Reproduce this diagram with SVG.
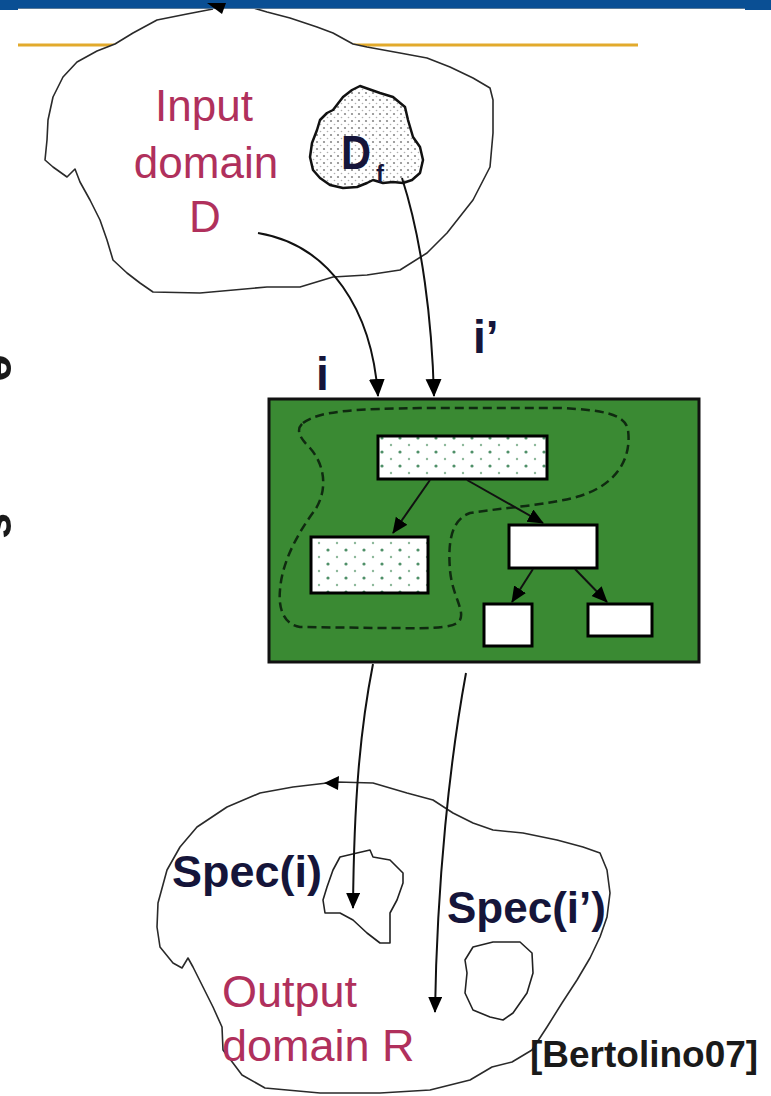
<svg xmlns="http://www.w3.org/2000/svg" width="771" height="1096" viewBox="0 0 771 1096">
<style>
.cloud{fill:#fff;stroke:#2a2a2a;stroke-width:1.6;stroke-linejoin:round}
.crim{font-family:"Liberation Sans",Arial,sans-serif;fill:#b0305c}
.bold{font-family:"Liberation Sans",Arial,sans-serif;font-weight:bold;fill:#15153a}
.conn{fill:none;stroke:#111;stroke-width:2}
.box{stroke:#000;stroke-width:3}
</style>
<defs>
<marker id="ah" markerUnits="userSpaceOnUse" markerWidth="16" markerHeight="16" refX="15" refY="7" orient="auto">
<path d="M0,0 L16,7 L0,14 Z" fill="#000"/>
</marker>
<marker id="ah2" markerUnits="userSpaceOnUse" markerWidth="18" markerHeight="18" refX="17" refY="8" orient="auto">
<path d="M0,0 L18,8 L0,16 Z" fill="#000"/>
</marker>
<pattern id="dotsGrey" width="7" height="7" patternUnits="userSpaceOnUse">
<rect width="7" height="7" fill="#fff"/>
<circle cx="2" cy="2" r="1.1" fill="#8a8a8a"/>
<circle cx="5.5" cy="5.5" r="0.8" fill="#b0b0b0"/>
</pattern>
<pattern id="dotsGreen" width="18" height="14" patternUnits="userSpaceOnUse">
<rect width="18" height="14" fill="#fff"/>
<circle cx="4" cy="4" r="1.6" fill="#4f9068"/>
<circle cx="13" cy="11" r="1.2" fill="#8cb89a"/>
</pattern>
</defs>

<g id="background">
<line x1="18" y1="45" x2="638" y2="45" stroke="#e2aa2c" stroke-width="3"/>
</g>

<g id="input-domain">
<path class="cloud" d="M213,9 L187,14 L157,20 L133,33 L115,44 L97,51 L77,62 L63,77 L53,97 L48,120 L47,140 L45,160 L53,167 L67,177 L75,169 L80,182 L90,200 L100,220 L107,240 L113,260 L127,273 L140,283 L153,292 L200,293 L267,287 L300,287 L333,277 L367,275 L400,270 L427,253 L447,233 L473,200 L490,167 L493,133 L493,100 L490,88 L473,78 L450,67 L427,58 L400,53 L367,47 L353,44 L333,33 L317,27 L290,18 L267,12 L250,7"/>
<text class="crim" x="204" y="121" font-size="44" text-anchor="middle">Input</text>
<text class="crim" x="206" y="178" font-size="44" text-anchor="middle">domain</text>
<text class="crim" x="205" y="232" font-size="44" text-anchor="middle">D</text>
</g>

<g id="failure-domain">
<path d="M360,86 L380,93 L393,97 L405,107 L408,120 L413,137 L420,147 L423,160 L420,173 L412,180 L403,183 L393,182 L383,183 L373,180 L367,183 L357,187 L343,188 L330,185 L320,178 L313,170 L310,157 L312,143 L317,130 L320,120 L327,113 L333,110 L343,97 L352,90 Z" fill="url(#dotsGrey)" stroke="#111" stroke-width="2.5" stroke-linejoin="round"/>
<text class="bold" x="341" y="169" font-size="48" textLength="30" lengthAdjust="spacingAndGlyphs" fill="#000">D</text>
<text class="bold" x="376" y="182" font-size="24" fill="#000">f</text>
</g>

<g id="program">
<rect x="269" y="399" width="430" height="263" fill="#3a8a33" stroke="#111" stroke-width="3"/>
<path d="M303,423 C320,410 360,409 420,408 L560,408 C600,410 625,413 628,430 C632,460 615,485 580,496 C550,505 500,508 470,513 C450,520 448,545 450,570 C452,595 465,610 460,620 C455,630 420,628 380,628 L300,627 C285,625 278,610 280,590 C282,560 300,530 315,510 C328,490 325,465 310,448 C300,438 295,430 303,423 Z" fill="none" stroke="#0f2a10" stroke-width="2.5" stroke-dasharray="9,5"/>
<rect class="box" x="378" y="436" width="169" height="43" fill="url(#dotsGreen)"/>
<rect class="box" x="311" y="537" width="117" height="56" fill="url(#dotsGreen)"/>
<rect class="box" x="509" y="525" width="88" height="43" fill="#fff"/>
<rect class="box" x="484" y="604" width="48" height="42" fill="#fff"/>
<rect class="box" x="588" y="604" width="64" height="32" fill="#fff"/>
</g>

<g id="output-domain">
<path class="cloud" d="M337,782 L373,783 L407,793 L433,800 L453,813 L473,823 L493,830 L523,833 L557,840 L583,847 L600,853 L607,870 L610,893 L607,917 L600,937 L590,958 L577,980 L562,1003 L547,1027 L532,1050 L512,1062 L492,1067 L470,1080 L430,1090 L380,1093 L320,1093 L265,1088 L242,1075 L233,1063 L223,1050 L222,1027 L213,1007 L203,987 L193,967 L188,958 L182,968 L173,963 L160,947 L157,927 L158,903 L167,870 L180,847 L197,827 L227,807 L260,793 L293,787 L327,783 Z"/>
<polygon points="324,783 339,776 338,790" fill="#000"/>
<path d="M340,857 L357,853 L370,850 L373,857 L390,860 L403,873 L403,883 L397,900 L390,913 L390,943 L380,943 L367,933 L353,920 L340,913 L325,913 L323,900 L327,887 L333,870 Z" fill="#fff" stroke="#222" stroke-width="1.6" stroke-linejoin="round"/>
<path d="M473,947 L493,942 L520,942 L532,953 L533,973 L527,993 L513,1013 L503,1020 L490,1017 L473,1010 L465,993 L467,973 L465,960 Z" fill="#fff" stroke="#222" stroke-width="1.6" stroke-linejoin="round"/>
<text class="bold" x="172" y="887" font-size="45">Spec(i)</text>
<text class="bold" x="447" y="923" font-size="44">Spec(i’)</text>
<text class="crim" x="222" y="1007" font-size="45">Output</text>
<text class="crim" x="222" y="1061" font-size="45">domain R</text>
</g>

<g id="connectors">
<path class="conn" d="M258,233 C330,245 372,310 378,396" marker-end="url(#ah2)"/>
<path class="conn" d="M402,178 C422,240 432,320 434,396" marker-end="url(#ah2)"/>
<path class="conn" d="M430,480 L393,533" marker-end="url(#ah)"/>
<path class="conn" d="M467,480 L543,523" marker-end="url(#ah)"/>
<path class="conn" d="M533,569 L512,602" marker-end="url(#ah)"/>
<path class="conn" d="M575,569 L607,602" marker-end="url(#ah)"/>
<path class="conn" d="M373,664 C360,730 354,800 353,908" marker-end="url(#ah)"/>
<path class="conn" d="M466,673 C450,760 437,880 435,1012" marker-end="url(#ah)"/>
</g>

<g id="labels">
<text class="bold" x="316" y="390" font-size="46">i</text>
<text class="bold" x="473" y="353" font-size="46">i’</text>
<text x="530" y="1067" font-size="37" font-family="Liberation Sans, Arial, sans-serif" font-weight="bold" fill="#1a1a1a">[Bertolino07]</text>
<text transform="translate(-16,368) rotate(90)" text-anchor="middle" font-size="50" font-family="Liberation Sans, Arial, sans-serif" font-weight="bold" fill="#1a1a1a">e</text>
<text transform="translate(-16,526) rotate(90)" text-anchor="middle" font-size="50" font-family="Liberation Sans, Arial, sans-serif" font-weight="bold" fill="#1a1a1a">s</text>
</g>

<g id="header">
<rect x="0" y="0" width="771" height="8" fill="#0a4f94"/>
<rect x="0" y="0" width="18" height="10" fill="#0a4f94"/>
<rect x="745" y="0" width="26" height="10" fill="#0a4f94"/>
<line x1="18" y1="8.5" x2="745" y2="8.5" stroke="#5a7a98" stroke-width="1"/>
<polygon points="207,3 226,3 222,14" fill="#000"/>
</g>
</svg>
